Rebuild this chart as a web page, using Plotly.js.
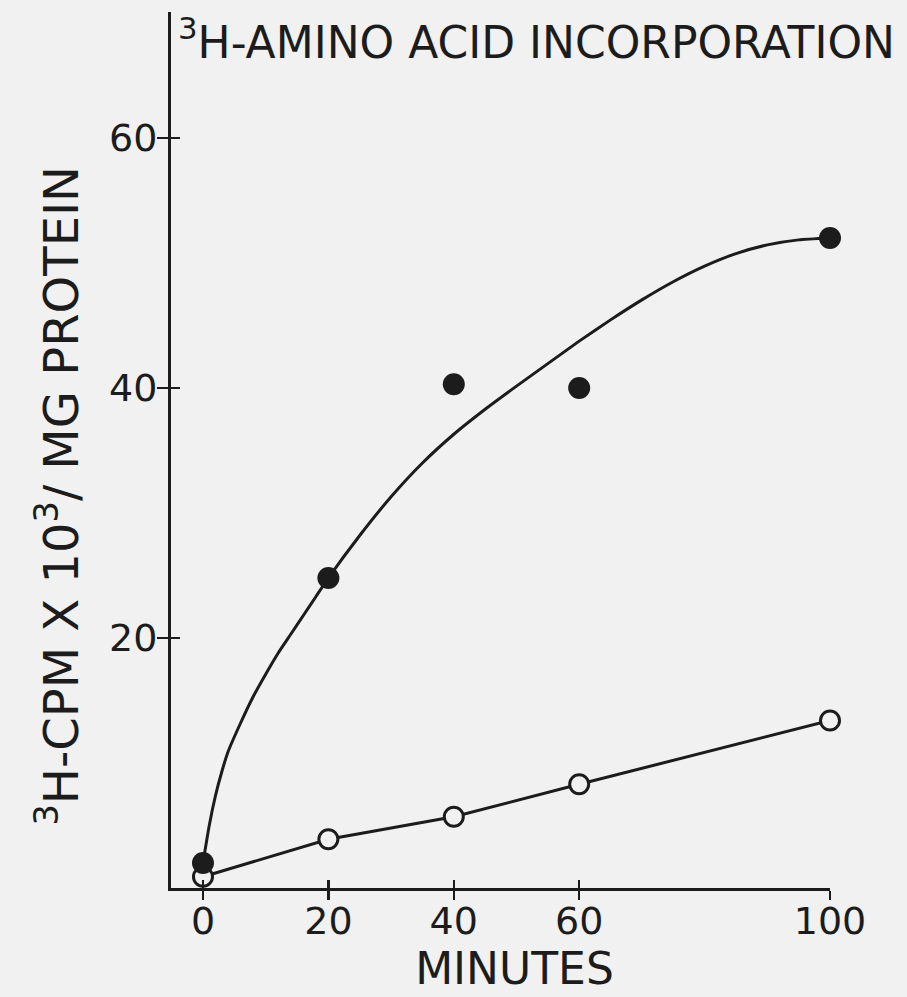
<!DOCTYPE html>
<html>
<head>
<meta charset="utf-8">
<script src="https://cdn.plot.ly/plotly-3.0.1.min.js"></script>
<style>html,body{margin:0;padding:0;background:#f1f1f1;}#chart{width:907px;height:997px;}</style>
</head>
<body>
<div id="chart"></div>
<script>
// Sampled time points (minutes)
const minutes = [0, 20, 40, 60, 100];
// Filled circles
const filledCpm = [2.0, 24.8, 40.3, 40.0, 52.0];
// Open circles
const openCpm = [0.9, 3.9, 5.7, 8.3, 13.4];
// Hand-drawn curve through the filled series
const curveMinutes = [0, 1, 2, 3, 4, 6, 8, 10, 12, 14, 16, 18, 20, 25, 30, 35, 40, 45, 50, 55, 60, 65, 70, 75, 80, 85, 90, 95, 100];
const curveCpm = [2.0, 5.0, 7.4, 9.3, 10.9, 13.2, 15.3, 17.1, 18.8, 20.3, 21.8, 23.3, 24.8, 28.2, 31.3, 34.0, 36.3, 38.3, 40.15, 41.95, 43.75, 45.45, 47.05, 48.5, 49.75, 50.75, 51.45, 51.85, 52.0];
// Axis ticks
const xTickVals = [0, 20, 40, 60, 100];
const xTickText = ['0', '20', '40', '60', '100'];
const yTickVals = [20, 40, 60];
const yTickText = ['20', '40', '60'];

const ink = '#1c1c1c';
const paper = '#f1f1f1';
const font = 'DejaVu Sans';
const NB = '\u00A0';
const ZW = '\u200B';

const traces = [
  {x: minutes, y: openCpm, mode: 'lines+markers', type: 'scatter', cliponaxis: false,
   line: {color: ink, width: 3},
   marker: {symbol: 'circle', size: 19, color: paper, line: {color: ink, width: 3}},
   showlegend: false, hoverinfo: 'x+y'},
  {x: curveMinutes, y: curveCpm, mode: 'lines', type: 'scatter', cliponaxis: false,
   line: {color: ink, width: 3, shape: 'spline', smoothing: 0.5},
   showlegend: false, hoverinfo: 'skip'},
  {x: minutes, y: filledCpm, mode: 'markers', type: 'scatter', cliponaxis: false,
   marker: {symbol: 'circle', size: 22, color: ink, line: {width: 0}},
   showlegend: false, hoverinfo: 'x+y'},
  {x: [minutes[0]], y: [openCpm[0]], xaxis: 'x2', yaxis: 'y2', type: 'scatter', mode: 'markers',
   marker: {opacity: 0, size: 1}, showlegend: false, hoverinfo: 'skip'}
];

const xRange = [-5.1, 100];
const yRange = [0, 70.08];

const layout = {
  width: 907, height: 997,
  paper_bgcolor: paper, plot_bgcolor: paper,
  margin: {l: 171, r: 77, t: 12, b: 109, autoexpand: false},
  showlegend: false,
  title: {
    text: '<sup>3</sup>H-AMINO ACID INCORPORATION',
    font: {family: font, size: 44, color: ink},
    xref: 'container', yref: 'container',
    x: 178 / 907, xanchor: 'left',
    y: 1 - 27 / 997, yanchor: 'top'
  },
  xaxis: {
    range: xRange, tickvals: xTickVals, ticktext: xTickText,
    ticks: 'outside', ticklen: 9, tickwidth: 2.5, tickcolor: ink,
    showline: true, linewidth: 3, linecolor: ink,
    showgrid: false, zeroline: false, automargin: false,
    tickfont: {family: font, size: 38, color: ink}, ticklabelstandoff: -12,
    title: {text: ZW + NB + NB + 'MINUTES', font: {family: font, size: 44, color: ink}, standoff: 6}
  },
  yaxis: {
    range: yRange, tickvals: yTickVals, ticktext: yTickText,
    ticks: 'outside', ticklen: 11, tickwidth: 2.5, tickcolor: ink,
    showline: true, linewidth: 3, linecolor: ink,
    showgrid: false, zeroline: false, automargin: false,
    tickfont: {family: font, size: 38, color: ink}, ticklabelstandoff: -8,
    title: {text: '<sup>3</sup>H-CPM X 10<sup>3</sup>/ MG PROTEIN' + NB.repeat(6) + ZW,
            font: {family: font, size: 48, color: ink}, standoff: 16}
  },
  xaxis2: {
    overlaying: 'x', anchor: 'y', range: xRange, tickvals: xTickVals,
    ticks: 'inside', ticklen: 8, tickwidth: 2.5, tickcolor: ink,
    showticklabels: false, showline: false, showgrid: false, zeroline: false, side: 'bottom'
  },
  yaxis2: {
    overlaying: 'y', anchor: 'x', range: yRange, tickvals: yTickVals,
    ticks: 'inside', ticklen: 9, tickwidth: 2.5, tickcolor: ink,
    showticklabels: false, showline: false, showgrid: false, zeroline: false, side: 'left'
  }
};

Plotly.newPlot('chart', traces, layout, {staticPlot: true, displayModeBar: false});
</script>
</body>
</html>
